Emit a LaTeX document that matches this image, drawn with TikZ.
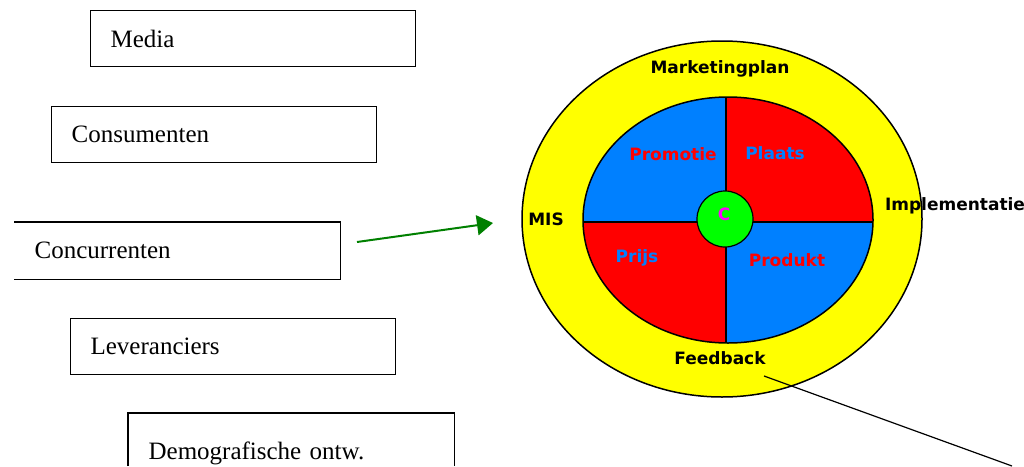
\documentclass[tikz,border=0pt]{standalone}
\usepackage{fontspec}
\setmainfont{Liberation Serif}
\newfontfamily\pixfont{DejaVu Sans}
\usepackage{tikz}
\usetikzlibrary{positioning}
\usetikzlibrary{arrows.meta}

\definecolor{mixblue}{RGB}{0,128,255}
\definecolor{mixred}{RGB}{255,0,0}
\definecolor{mixyellow}{RGB}{255,255,0}
\definecolor{hubgreen}{RGB}{0,255,0}
\definecolor{hubpink}{RGB}{255,0,255}
\definecolor{arrowgreen}{RGB}{0,128,0}

\begin{document}
\begin{tikzpicture}[
            x = 1pt,
            y = -1pt,
            box/.style = {
                draw,
                line width = 1.2pt,
                anchor = north west,
                minimum width = 325pt,
                minimum height = 56pt,
                text width = 285pt,
                inner xsep = 20pt,
                align = left,
                font = \fontsize{25}{30}\selectfont
            },
            openbox/.style = {
                box,
                draw = none
            },
            ring/.style = {
                font = \pixfont\bfseries\fontsize{17}{20}\selectfont,
                inner sep = 0pt,
                anchor = base
            },
            hub/.style = {
                draw,
                circle,
                fill = hubgreen,
                line width = 1.2pt,
                minimum size = 56pt,
                inner sep = 0pt
            }
            ]
            \useasboundingbox (0,0) rectangle (1024,466);

            \node[box] (media) at (90,10) {Media};
            \node[box] (cons) at (51,106) {Consumenten};
            \node[openbox] (conc) at (14,222) {Concurrenten};
            \draw[line width = 1.2pt] (conc.north west) -- (conc.north east) -- (conc.south east) -- (conc.south west);
            \node[box] (lev) at (70,318) {Leveranciers};
            \node[openbox, minimum height = 80pt] (demo) at (128,413) {Demografische ontw.};
            \draw[line width = 1.2pt] ([yshift=-53pt]demo.north west) -- (demo.north west) -- (demo.north east) -- ([yshift=-53pt]demo.north east);

            \draw[line width = 1.5pt, fill = mixyellow] (722,219) ellipse [x radius = 200pt, y radius = 178pt];
            \begin{scope}
                \clip (728,220) ellipse [x radius = 145pt, y radius = 123pt];
                \fill[mixblue] (570,90) rectangle (726,222);
                \fill[mixred] (726,90) rectangle (880,222);
                \fill[mixred] (570,222) rectangle (726,350);
                \fill[mixblue] (726,222) rectangle (880,350);
            \end{scope}
            \draw[line width = 1.5pt] (728,220) ellipse [x radius = 145pt, y radius = 123pt];
            \draw[line width = 1.8pt] (726,97) -- (726,343);
            \draw[line width = 1.8pt] (583,222) -- (873,222);
            \node[hub] (hub) at (725,219) {};

            \node[ring] (mplan) at (720,73) {Marketingplan};
            \node[ring] (mis) at (546,225) {MIS};
            \node[ring] (impl) at (955,210) {Implementatie};
            \node[ring] (feedback) at (720,364) {Feedback};
            \node[ring, text = mixred] (promotie) at (673,160) {Promotie};
            \node[ring, text = mixblue] (plaats) at (775,159) {Plaats};
            \node[ring, text = mixblue] (prijs) at (637,262) {Prijs};
            \node[ring, text = mixred] (produkt) at (787,266) {Produkt};
            \node[ring, text = hubpink] (c) at (724,220) {C};

            \coordinate (gstart) at (357,242);
            \coordinate (gend) at (493,223);
            \draw[line width = 2pt, arrowgreen, -{Triangle[length=16pt, width=20pt]}] (gstart) -- (gend);

            \coordinate (fbstart) at (764,376);
            \coordinate (fbend) at (1012,466);
            \draw[line width = 1.2pt] (fbstart) -- (fbend);
        \end{tikzpicture}
\end{document}
